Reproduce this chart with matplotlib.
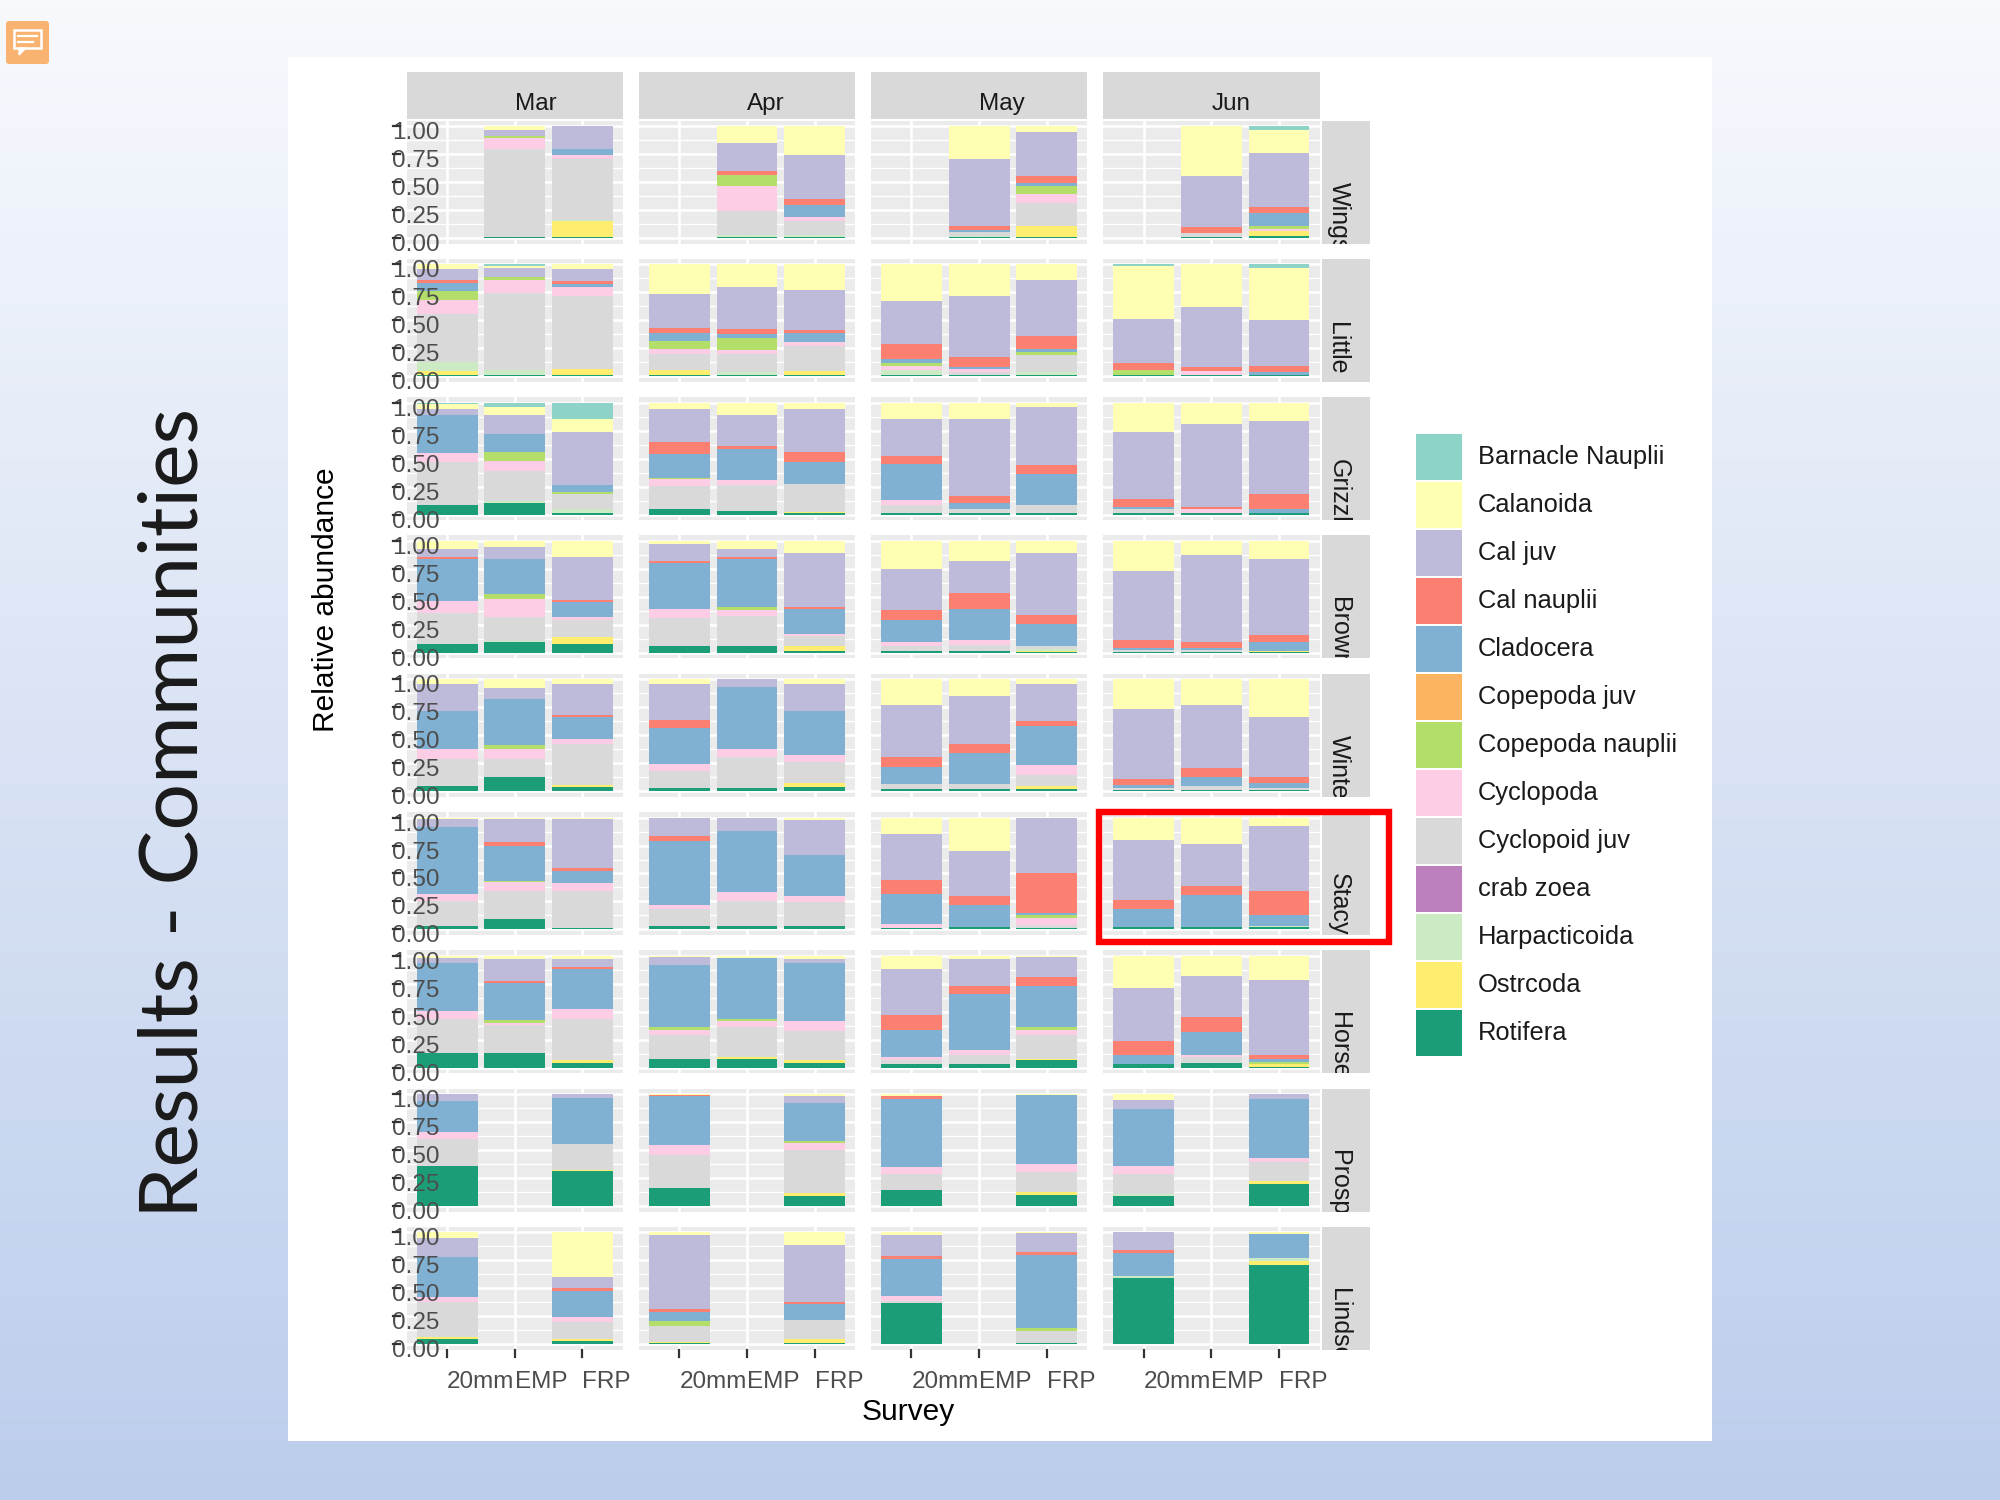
import numpy as np
import matplotlib.pyplot as plt
from matplotlib.patches import Rectangle, FancyBboxPatch, Polygon
from matplotlib.transforms import blended_transform_factory, ScaledTranslation

plt.rcParams['font.family'] = ['Liberation Sans', 'DejaVu Sans']

# legend order (top of the stack first)
species = ['Barnacle Nauplii', 'Calanoida', 'Cal juv', 'Cal nauplii', 'Cladocera',
           'Copepoda juv', 'Copepoda nauplii', 'Cyclopoda', 'Cyclopoid juv',
           'crab zoea', 'Harpacticoida', 'Ostrcoda', 'Rotifera']
codes = ['Barn', 'Calan', 'CalJ', 'CalN', 'Clad', 'CopJ', 'CopN', 'Cyc', 'CycJ',
         'Crab', 'Har', 'Ost', 'Rot']
colors = ['#8DD3C7', '#FFFFB3', '#BEBADA', '#FB8072', '#80B1D3', '#FDB462', '#B3DE69',
          '#FCCDE5', '#D9D9D9', '#BC80BD', '#CCEBC5', '#FFED6F', '#1B9E77']

months = ['Mar', 'Apr', 'May', 'Jun']
surveys = ['20mm', 'EMP', 'FRP']
# strip labels as far as they show before the strip cuts them off
site_names = ['Wings', 'Little H', 'Grizzly', 'Browns', 'Winter', 'Stacy',
              'Horses', 'Prospe', 'Lindse']

# relative abundance per bar: Mar(20mm, EMP, FRP), Apr(...), May(...), Jun(...)
wings = [
    None,
    dict(Rot=.01, CycJ=.78, Cyc=.10, CopN=.02, CalJ=.05, Calan=.035),
    dict(Rot=.01, Ost=.137, Har=.01, CycJ=.545, Cyc=.04, Clad=.05, CalJ=.205),
    None,
    dict(Rot=.01, Har=.02, CycJ=.21, Cyc=.22, CopN=.095, CalN=.04, CalJ=.25, Calan=.146),
    dict(Rot=.01, Har=.02, CycJ=.12, Cyc=.04, Clad=.10, CalN=.06, CalJ=.39, Calan=.26),
    None,
    dict(Rot=.005, Har=.015, CycJ=.03, Clad=.02, CalN=.04, CalJ=.595, Calan=.295),
    dict(Rot=.01, Ost=.10, CycJ=.20, Cyc=.085, CopN=.075, Clad=.02, CalN=.07, CalJ=.39, Calan=.055),
    None,
    dict(Rot=.01, CycJ=.03, CalN=.055, CalJ=.46, Calan=.445),
    dict(Rot=.02, Ost=.04, Cyc=.02, CopN=.03, Clad=.11, CalN=.055, CalJ=.48, Calan=.21, Barn=.035),
]
little = [
    dict(Rot=.01, Ost=.04, Har=.075, CycJ=.43, Cyc=.12, CopN=.08, Clad=.075, CalN=.025, CalJ=.10, Calan=.04),
    dict(Rot=.01, Har=.05, CycJ=.68, Cyc=.12, CopN=.03, CalJ=.075, Calan=.02, Barn=.015),
    dict(Rot=.01, Ost=.05, CycJ=.65, Cyc=.075, Clad=.03, CalN=.02, CalJ=.11, Calan=.04),
    dict(Rot=.015, Ost=.04, CycJ=.14, Cyc=.045, CopN=.075, Clad=.075, CalN=.045, CalJ=.30, Calan=.265),
    dict(Rot=.01, Har=.025, CycJ=.165, Cyc=.03, CopN=.11, Clad=.035, CalN=.045, CalJ=.38, Calan=.20),
    dict(Rot=.01, Ost=.04, CycJ=.22, Cyc=.035, Clad=.085, CalN=.02, CalJ=.36, Calan=.23),
    dict(Rot=.01, Har=.05, Cyc=.03, CopN=.03, Clad=.03, CalN=.14, CalJ=.38, Calan=.33),
    dict(Rot=.01, CycJ=.025, Cyc=.03, Clad=.015, CalN=.095, CalJ=.54, Calan=.285),
    dict(Rot=.01, Har=.025, CycJ=.16, CopN=.02, Clad=.03, CalN=.12, CalJ=.50, Calan=.14),
    dict(Rot=.01, CopN=.05, CalN=.06, CalJ=.39, Calan=.48, Barn=.015),
    dict(Rot=.01, Cyc=.04, CalN=.03, CalJ=.535, Calan=.385),
    dict(Rot=.01, Clad=.03, CalN=.055, CalJ=.41, Calan=.46, Barn=.035),
]
grizzly = [
    dict(Rot=.085, CycJ=.38, Cyc=.08, Clad=.34, CalJ=.055, Calan=.045, Barn=.01),
    dict(Rot=.105, Har=.015, CycJ=.27, Cyc=.09, CopN=.075, Clad=.165, CalJ=.17, Calan=.075, Barn=.035),
    dict(Rot=.01, Har=.04, CycJ=.135, CopN=.015, Clad=.06, CalJ=.475, Calan=.12, Barn=.145),
    dict(Rot=.045, CycJ=.21, Cyc=.06, CopN=.015, Clad=.215, CalN=.10, CalJ=.30, Calan=.055),
    dict(Rot=.03, CycJ=.23, Cyc=.045, Clad=.275, CalN=.03, CalJ=.27, Calan=.11),
    dict(Rot=.01, Ost=.015, CycJ=.245, Clad=.195, CalN=.09, CalJ=.38, Calan=.055),
    dict(Rot=.01, CycJ=.075, Cyc=.045, Clad=.32, CalN=.065, CalJ=.33, Calan=.145),
    dict(Rot=.01, CycJ=.035, Clad=.055, CalN=.065, CalJ=.685, Calan=.145),
    dict(Rot=.01, CycJ=.075, Clad=.275, CalN=.085, CalJ=.52, Calan=.035),
    dict(Rot=.01, CycJ=.035, Clad=.02, CalN=.075, CalJ=.595, Calan=.265),
    dict(Rot=.01, Cyc=.035, CalN=.02, CalJ=.74, Calan=.19),
    dict(Rot=.01, Clad=.04, CalN=.135, CalJ=.655, Calan=.16),
]
brown = [
    dict(Rot=.08, CycJ=.275, Cyc=.11, Clad=.37, CalN=.015, CalJ=.07, Calan=.075),
    dict(Rot=.095, Har=.015, CycJ=.21, Cyc=.165, CopN=.045, Clad=.31, CalJ=.11, Calan=.05),
    dict(Rot=.08, Ost=.06, CycJ=.15, Cyc=.03, Clad=.13, CalN=.02, CalJ=.385, Calan=.145),
    dict(Rot=.065, CycJ=.25, Cyc=.075, Clad=.41, CalN=.025, CalJ=.15, Calan=.025),
    dict(Rot=.065, CycJ=.265, Cyc=.055, CopN=.02, Clad=.43, CalN=.02, CalJ=.065, Calan=.075),
    dict(Rot=.02, Ost=.045, CycJ=.085, Cyc=.02, Clad=.22, CalN=.02, CalJ=.485, Calan=.105),
    dict(Rot=.02, CycJ=.045, Cyc=.035, Clad=.19, CalN=.09, CalJ=.37, Calan=.25),
    dict(Rot=.02, CycJ=.05, Cyc=.045, Clad=.275, CalN=.14, CalJ=.285, Calan=.18),
    dict(Rot=.005, Ost=.015, Har=.01, CycJ=.035, Clad=.195, CalN=.08, CalJ=.555, Calan=.105),
    dict(Rot=.005, CycJ=.02, Clad=.015, CalN=.075, CalJ=.615, Calan=.27),
    dict(Rot=.005, CycJ=.02, Clad=.015, CalN=.06, CalJ=.775, Calan=.125),
    dict(Rot=.005, Ost=.015, Clad=.075, CalN=.06, CalJ=.685, Calan=.16),
]
winter = [
    dict(Rot=.045, Har=.005, CycJ=.24, Cyc=.09, Clad=.34, CalJ=.24, Calan=.04),
    dict(Rot=.125, CycJ=.165, Cyc=.09, CopN=.03, Clad=.415, CalJ=.095, Calan=.08),
    dict(Rot=.035, Ost=.02, CycJ=.365, Cyc=.04, Clad=.20, CalN=.02, CalJ=.275, Calan=.04),
    dict(Rot=.03, CycJ=.15, Cyc=.06, Clad=.325, CalN=.065, CalJ=.325, Calan=.04),
    dict(Rot=.03, CycJ=.275, Cyc=.075, Clad=.55, CalJ=.07),
    dict(Rot=.035, Ost=.04, CycJ=.185, Cyc=.065, Clad=.395, CalJ=.24, Calan=.04),
    dict(Rot=.015, CycJ=.05, Clad=.155, CalN=.085, CalJ=.465, Calan=.23),
    dict(Rot=.015, CycJ=.05, Clad=.275, CalN=.08, CalJ=.425, Calan=.15),
    dict(Rot=.015, Ost=.03, CycJ=.10, Cyc=.09, Clad=.345, CalN=.05, CalJ=.33, Calan=.04),
    dict(Rot=.01, CycJ=.015, Clad=.03, CalN=.055, CalJ=.625, Calan=.265),
    dict(Rot=.01, CycJ=.04, Clad=.075, CalN=.08, CalJ=.565, Calan=.23),
    dict(Rot=.01, CycJ=.015, Clad=.05, CalN=.05, CalJ=.54, Calan=.335),
]
stacy = [
    dict(Rot=.03, CycJ=.225, Cyc=.06, Clad=.595, CalJ=.075, Calan=.01),
    dict(Rot=.09, CycJ=.255, Cyc=.075, CopN=.015, Clad=.315, CalN=.03, CalJ=.21, Calan=.01),
    dict(Rot=.01, CycJ=.33, Cyc=.07, Clad=.11, CalN=.02, CalJ=.44, Calan=.01),
    dict(Rot=.03, CycJ=.15, Cyc=.035, Clad=.575, CalN=.045, CalJ=.16),
    dict(Rot=.03, CycJ=.225, Cyc=.08, Clad=.545, CalJ=.115),
    dict(Rot=.03, CycJ=.21, Cyc=.06, Clad=.365, CalJ=.305, Calan=.025),
    dict(Rot=.015, Cyc=.03, Clad=.27, CalN=.13, CalJ=.41, Calan=.145),
    dict(Rot=.02, Clad=.20, CalN=.08, CalJ=.40, Calan=.295),
    dict(Rot=.015, CycJ=.02, Cyc=.065, CopN=.025, Clad=.025, CalN=.35, CalJ=.50),
    dict(Rot=.02, Clad=.165, CalN=.075, CalJ=.54, Calan=.20),
    dict(Rot=.02, Clad=.29, CalN=.08, CalJ=.37, Calan=.235),
    dict(Rot=.02, Har=.01, Clad=.10, CalN=.21, CalJ=.585, Calan=.075),
]
horse = [
    dict(Rot=.13, CycJ=.305, Cyc=.075, Clad=.425, CalJ=.045, Calan=.02),
    dict(Rot=.13, CycJ=.255, Cyc=.02, CopN=.02, Clad=.335, CalN=.02, CalJ=.20, Calan=.025),
    dict(Rot=.045, Ost=.02, CycJ=.37, Cyc=.09, Clad=.35, CalN=.02, CalJ=.075, Calan=.025),
    dict(Rot=.08, CycJ=.21, Cyc=.05, CopN=.02, Clad=.555, CalJ=.075, Calan=.01),
    dict(Rot=.08, Ost=.015, CycJ=.27, Cyc=.055, CopN=.02, Clad=.545, Calan=.02),
    dict(Rot=.045, Ost=.02, CycJ=.26, Cyc=.09, Clad=.52, CalJ=.035, Calan=.025),
    dict(Rot=.03, CycJ=.04, Cyc=.025, Clad=.245, CalN=.135, CalJ=.41, Calan=.115),
    dict(Rot=.03, CycJ=.085, Cyc=.04, Clad=.505, CalN=.075, CalJ=.24, Calan=.025),
    dict(Rot=.065, Ost=.015, CycJ=.21, Cyc=.05, CopN=.025, Clad=.365, CalN=.08, CalJ=.18, Calan=.01),
    dict(Rot=.03, Clad=.085, CalN=.12, CalJ=.475, Calan=.29),
    dict(Rot=.045, CycJ=.05, Cyc=.02, Clad=.20, CalN=.14, CalJ=.36, Calan=.18),
    dict(Rot=.01, Ost=.02, CopN=.02, Clad=.03, CalN=.035, CalJ=.67, Calan=.215),
]
prosp = [
    dict(Rot=.355, CycJ=.245, Cyc=.06, Clad=.275, CalJ=.065),
    None,
    dict(Rot=.31, Ost=.015, CycJ=.23, Clad=.41, CalJ=.035),
    dict(Rot=.165, CycJ=.29, Cyc=.09, Clad=.44, CalN=.015, Calan=.005),
    None,
    dict(Rot=.09, Ost=.025, CycJ=.38, Cyc=.065, CopN=.02, Clad=.34, CalJ=.055, Calan=.02),
    dict(Rot=.145, CycJ=.145, Cyc=.065, Clad=.605, CalN=.03, Calan=.015),
    None,
    dict(Rot=.095, Ost=.03, CycJ=.18, Cyc=.07, Clad=.615, Calan=.01),
    dict(Rot=.09, Har=.02, CycJ=.175, Cyc=.07, Clad=.51, CalJ=.08, Calan=.055),
    None,
    dict(Rot=.20, Ost=.025, CycJ=.17, Cyc=.03, Clad=.535, CalJ=.04),
]
lindsey = [
    dict(Rot=.045, Ost=.02, CycJ=.31, Cyc=.045, Clad=.35, CalJ=.165, Calan=.05),
    None,
    dict(Rot=.03, Ost=.02, CycJ=.15, Cyc=.04, Clad=.23, CalN=.03, CalJ=.10, Calan=.39),
    dict(Rot=.01, Ost=.01, CycJ=.14, CopN=.045, Clad=.085, CalN=.02, CalJ=.655, Calan=.025),
    None,
    dict(Rot=.015, Ost=.035, CycJ=.165, Clad=.14, CalN=.02, CalJ=.50, Calan=.115),
    dict(Rot=.36, CycJ=.025, Cyc=.04, Clad=.33, CalN=.02, CalJ=.185, Calan=.025),
    None,
    dict(Rot=.015, CycJ=.105, CopN=.02, Clad=.645, CalN=.025, CalJ=.17, Calan=.005),
    dict(Rot=.58, Har=.015, Clad=.205, CalN=.025, CalJ=.155),
    None,
    dict(Rot=.70, Ost=.035, Har=.025, Clad=.21, CalJ=.005, Calan=.01),
]
sites = [wings, little, grizzly, brown, winter, stacy, horse, prosp, lindsey]

y_levels = [0, 0.25, 0.5, 0.75, 1.0]
y_labels = ['0.00', '0.25', '0.50', '0.75', '1.00']

color_of = dict(zip(codes, colors))
stack_order = codes[::-1]  # Rotifera at the bottom

W, H = 2000, 1500
fig = plt.figure(figsize=(20, 15), dpi=100)


def px_axes(x0, y0, x1, y1):
    return fig.add_axes([x0 / W, 1 - y1 / H, (x1 - x0) / W, (y1 - y0) / H])


def bare(ax):
    ax.set_xticks([])
    ax.set_yticks([])
    for s in ax.spines.values():
        s.set_visible(False)


# slide background
bg = px_axes(0, 0, W, H)
t = np.linspace(0, 1, 300)[:, None, None]
top = np.array([247, 249, 253]) / 255
bot = np.array([188, 205, 236]) / 255
bg.imshow(top + (bot - top) * t * np.ones((1, 2, 1)), aspect='auto', extent=[0, W, H, 0])
bg.set_xlim(0, W)
bg.set_ylim(H, 0)
bg.add_patch(Rectangle((288, 57), 1424, 1384, fc='white', ec='none'))
bg.axis('off')

col_left = [406.5 + c * 232.2 for c in range(4)]
pw, ph = 216.5, 123
row_top = [120.5 + r * 138.3 for r in range(9)]
dots = fig.dpi_scale_trans

for r, site in enumerate(sites):
    for c, month in enumerate(months):
        x0, y0 = col_left[c], row_top[r]
        ax = px_axes(x0, y0, x0 + pw, y0 + ph)
        ax.set_facecolor('#EBEBEB')
        ax.set_xlim(-0.6, 2.6)
        ax.set_ylim(-0.05, 1.05)
        bare(ax)
        for v in [0.125, 0.375, 0.625, 0.875]:
            ax.axhline(v, color='white', lw=1.0, zorder=0.5)
        for v in y_levels:
            ax.axhline(v, color='white', lw=1.8, zorder=0.6)
        for j in range(3):
            ax.axvline(j, color='white', lw=1.8, zorder=0.6)

        for j, bar in enumerate(site[c * 3:(c + 1) * 3]):
            if bar is None:
                continue
            total = sum(bar.values())
            bottom = 0.0
            for code in stack_order:
                v = bar.get(code, 0) / total
                if v > 0:
                    ax.bar(j, v, bottom=bottom, width=0.9, color=color_of[code],
                           lw=0, zorder=1)
                    bottom += v

        if c == 0:
            tr = blended_transform_factory(fig.transFigure, ax.transData)
            tr_lab = tr + ScaledTranslation(0, -13 / 100, dots)
            for v, lab in zip(y_levels, y_labels):
                ax.text(392 / W, v, lab, transform=tr_lab, ha='left', va='baseline',
                        fontsize=17.5, color='#4D4D4D', clip_on=False, zorder=5)
                ax.plot([393 / W, 400 / W], [v, v], transform=tr, color='#333333',
                        lw=1.6, clip_on=False, zorder=6)
        if r == len(sites) - 1:
            tr = blended_transform_factory(ax.transData, fig.transFigure)
            for j, s in enumerate(surveys):
                ax.text(j, 1 - 1388 / H, s, transform=tr, ha='left', va='baseline',
                        fontsize=17.5, color='#4D4D4D', clip_on=False)
                ax.plot([j, j], [1 - 1350 / H, 1 - 1357 / H], transform=tr,
                        color='#333333', lw=1.6, clip_on=False)

# month strips
for c, month in enumerate(months):
    sx = px_axes(col_left[c], 72, col_left[c] + pw, 119)
    sx.set_facecolor('#D9D9D9')
    bare(sx)
    sx.text(0.5, 9 / 47, month, transform=sx.transAxes, ha='left', va='baseline',
            fontsize=17.5, color='#1A1A1A')

# site strips (text starts at the middle and is clipped by the strip)
for r, name in enumerate(site_names):
    rx = px_axes(1321.5, row_top[r], 1370.5, row_top[r] + ph)
    rx.set_facecolor('#D9D9D9')
    bare(rx)
    rx.text(0.36, 0.5, name, transform=rx.transAxes, rotation=-90, rotation_mode='anchor',
            ha='left', va='center', fontsize=18, color='#1A1A1A', clip_on=True)

# overlay: titles, legend, highlight box, icon
ov = px_axes(0, 0, W, H)
ov.set_xlim(0, W)
ov.set_ylim(H, 0)
ov.axis('off')

title = ov.text(198, 813, 'Results - Communities', rotation=90, rotation_mode='anchor',
                ha='center', va='baseline', fontsize=58, color='#1A1A1A',
                family=['Lato', 'Liberation Sans'], fontweight='normal')
ov.text(334, 600, 'Relative abundance', rotation=90, rotation_mode='anchor',
        ha='center', va='baseline', fontsize=21.5, color='black')
ov.text(862, 1420, 'Survey', ha='left', va='baseline', fontsize=21.5, color='black')

for i, (name, col) in enumerate(zip(species, colors)):
    y = 434 + 48 * i
    ov.add_patch(Rectangle((1416, y), 46, 46, fc=col, ec='none'))
    ov.text(1478, y + 23, name, ha='left', va='center', fontsize=18.4, color='#1A1A1A')

ov.add_patch(Rectangle((1098.5, 811.5), 290, 130.5, fill=False, ec='#FF0000', lw=4.6))

# comment icon
ov.add_patch(FancyBboxPatch((6, 21), 43, 43, boxstyle='round,pad=0,rounding_size=3',
                            fc='#F7B36F', ec='none'))
ov.add_patch(Rectangle((14, 30), 27, 18, fill=False, ec='white', lw=1.8))
ov.add_patch(Polygon([[19, 48], [19, 55], [26, 48]], closed=True, fc='white', ec='white'))
ov.plot([18, 37], [36, 36], color='white', lw=1.6)
ov.plot([18, 33], [42, 42], color='white', lw=1.6)

# fit title length to the slide
fig.canvas.draw()
ext = title.get_window_extent(fig.canvas.get_renderer())
title.set_fontsize(58 * 810 / ext.height)

fig.savefig('out.png', dpi=100)
